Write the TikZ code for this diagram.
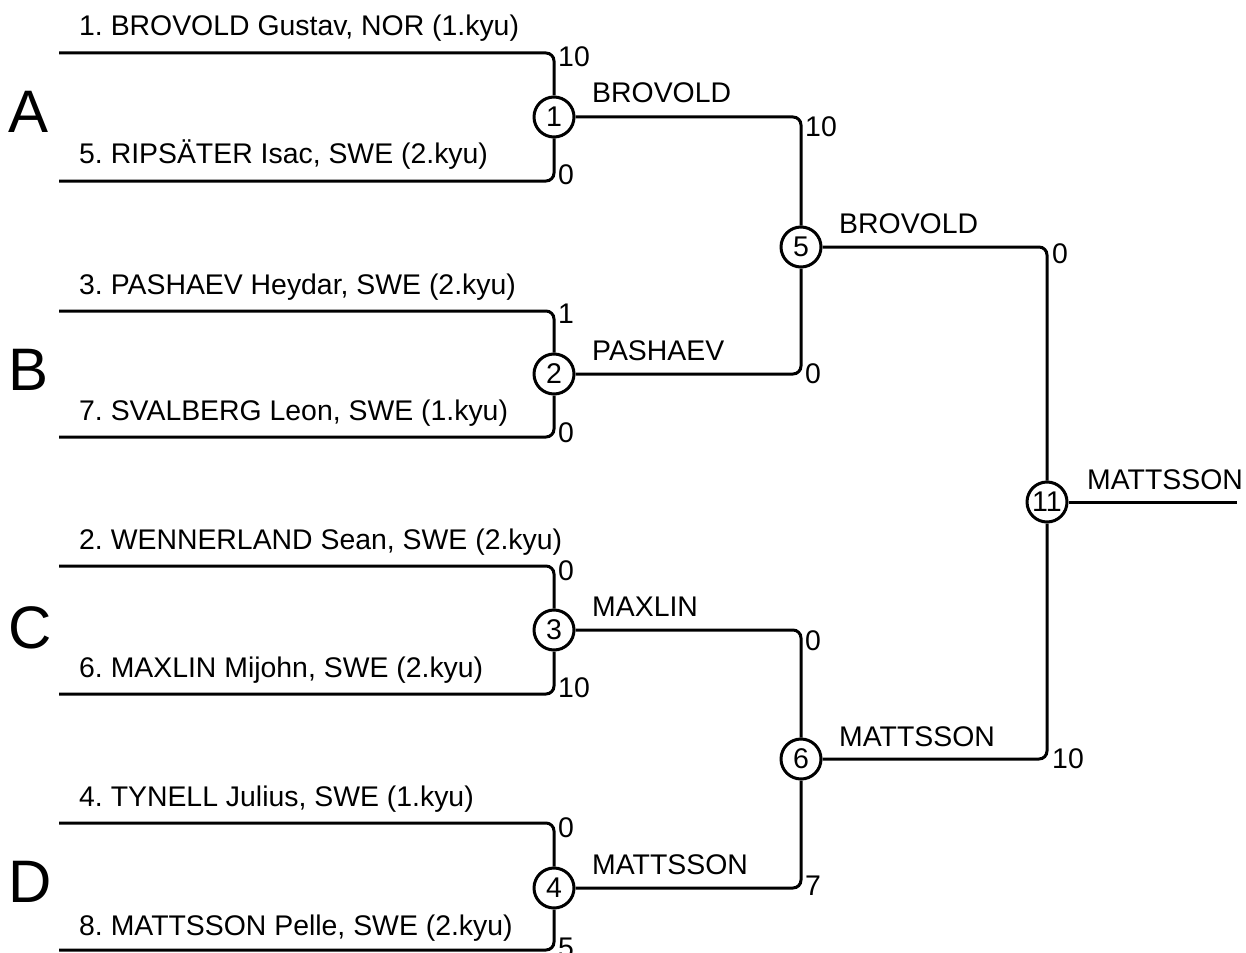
\documentclass[tikz,border=0pt]{standalone}
\usepackage{fontspec}
\setmainfont{Liberation Sans}
\frenchspacing
\begin{document}
\begin{tikzpicture}[x=1pt,y=-1pt,
  bline/.style={line width=3pt,rounded corners=8pt},
  matchc/.style={circle,draw,line width=3pt,minimum size=40pt,inner sep=0pt,font=\fontsize{28.5}{30}\selectfont},
  pname/.style={anchor=base west,inner sep=0pt,font=\fontsize{28.4}{30}\selectfont},
  pscore/.style={anchor=base west,inner sep=0pt,font=\fontsize{28.4}{30}\selectfont},
  pgroup/.style={anchor=base west,inner sep=0pt,font=\fontsize{60}{62}\selectfont}]
\useasboundingbox (0,0) rectangle (1246,952);
% match circles
\node[matchc] (m1) at (554,117) {1};
\node[matchc] (m2) at (554,374) {2};
\node[matchc] (m3) at (554,630) {3};
\node[matchc] (m4) at (554,888) {4};
\node[matchc] (m5) at (801,247) {5};
\node[matchc] (m6) at (801,759) {6};
\node[matchc] (m11) at (1047,502) {11};
% entry lines
\coordinate (s1) at (59,53);
\coordinate (s5) at (59,181);
\coordinate (s3) at (59,311);
\coordinate (s7) at (59,437);
\coordinate (s2) at (59,566);
\coordinate (s6) at (59,694);
\coordinate (s4) at (59,823);
\coordinate (s8) at (59,950);
\coordinate (fin) at (1237,502);
\draw[bline] (s1) -| (m1);
\draw[bline] (s5) -| (m1);
\draw[bline] (s3) -| (m2);
\draw[bline] (s7) -| (m2);
\draw[bline] (s2) -| (m3);
\draw[bline] (s6) -| (m3);
\draw[bline] (s4) -| (m4);
\draw[bline] (s8) -| (m4);
\draw[bline] (m1) -| (m5);
\draw[bline] (m2) -| (m5);
\draw[bline] (m3) -| (m6);
\draw[bline] (m4) -| (m6);
\draw[bline] (m5) -| (m11);
\draw[bline] (m6) -| (m11);
\draw[bline] (m11) -- (fin);
% names
\node[pname] (n1) at (79,36) {1. BROVOLD Gustav, NOR (1.kyu)};
\node[pname] (n5) at (79,164) {5. RIPSÄTER Isac, SWE (2.kyu)};
\node[pname] (n3) at (79,294) {3. PASHAEV Heydar, SWE (2.kyu)};
\node[pname] (n7) at (79,420) {7. SVALBERG Leon, SWE (1.kyu)};
\node[pname] (n2) at (79,549) {2. WENNERLAND Sean, SWE (2.kyu)};
\node[pname] (n6) at (79,677) {6. MAXLIN Mijohn, SWE (2.kyu)};
\node[pname] (n4) at (79,806) {4. TYNELL Julius, SWE (1.kyu)};
\node[pname] (n8) at (79,935) {8. MATTSSON Pelle, SWE (2.kyu)};
% groups
\node[pgroup] (gA) at (8,133) {A};
\node[pgroup] (gB) at (8,390) {B};
\node[pgroup] (gC) at (8,648) {C};
\node[pgroup] (gD) at (8,902) {D};
% winners
\node[pname] (w1) at (592,103) {BROVOLD};
\node[pname] (w2) at (592,360) {PASHAEV};
\node[pname] (w3) at (592,616) {MAXLIN};
\node[pname] (w4) at (592,874) {MATTSSON};
\node[pname] (w5) at (839,233) {BROVOLD};
\node[pname] (w6) at (839,746) {MATTSSON};
\node[pname] (w11) at (1087,489) {MATTSSON};
% scores
\node[pscore] (c1a) at (558,67) {10};
\node[pscore] (c1b) at (558,185) {0};
\node[pscore] (c2a) at (558,323) {1};
\node[pscore] (c2b) at (558,442) {0};
\node[pscore] (c3a) at (558,580) {0};
\node[pscore] (c3b) at (558,697) {10};
\node[pscore] (c4a) at (558,837) {0};
\node[pscore] (c4b) at (558,957) {5};
\node[pscore] (c5a) at (805,137) {10};
\node[pscore] (c5b) at (805,383) {0};
\node[pscore] (c6a) at (805,650) {0};
\node[pscore] (c6b) at (805,895) {7};
\node[pscore] (c11a) at (1052,263) {0};
\node[pscore] (c11b) at (1052,768) {10};
\end{tikzpicture}
\end{document}
